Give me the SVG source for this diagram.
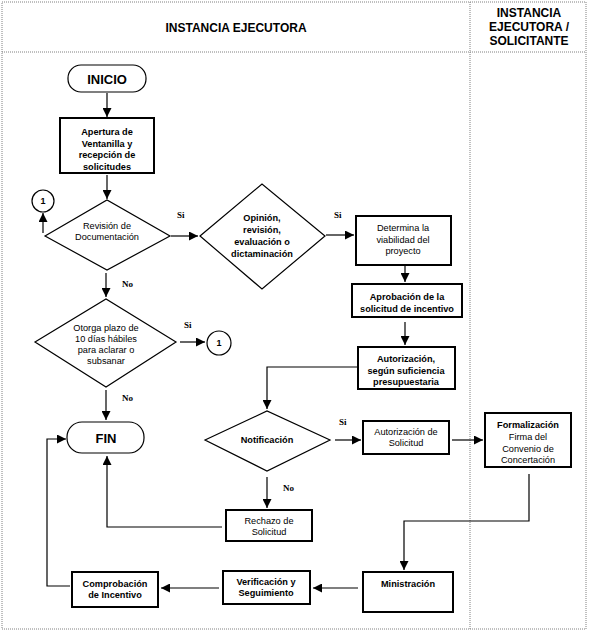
<svg xmlns="http://www.w3.org/2000/svg" width="589" height="633" viewBox="0 0 589 633">
<defs>
<marker id="ah" markerUnits="userSpaceOnUse" markerWidth="9" markerHeight="9" refX="9" refY="4.5" orient="auto"><path d="M0,0 L9,4.5 L0,9 z" fill="#000"/></marker>
<style>
.frame{fill:none;stroke:#808080;stroke-width:1;stroke-dasharray:1 1}
.box{fill:#fff;stroke:#000;stroke-width:2}
.dia{fill:#fff;stroke:#000;stroke-width:1.2}
.term{fill:#fff;stroke:#000;stroke-width:1.2}
.c{fill:none;stroke:#000;stroke-width:1.2}
.t{font-family:"Liberation Sans",Arial,sans-serif;font-size:9.2px;text-anchor:middle;fill:#000}
.b{font-weight:bold}
.h{font-family:"Liberation Sans",Arial,sans-serif;font-size:12px;font-weight:bold;text-anchor:middle;fill:#000}
.big{font-family:"Liberation Sans",Arial,sans-serif;font-size:13px;font-weight:bold;text-anchor:middle;fill:#000}
.l{font-family:"Liberation Serif","Times New Roman",serif;font-size:9px;font-weight:bold;fill:#000}
</style>
</defs>
<rect width="589" height="633" fill="#fff"/>
<g id="frame">
<rect class="frame" x="2" y="2" width="584" height="627"/>
<line class="frame" x1="2" y1="52" x2="586" y2="52"/>
<line class="frame" x1="470" y1="2" x2="470" y2="629"/>
<text class="h" x="236" y="32">INSTANCIA EJECUTORA</text>
<text class="h" x="529" y="17">INSTANCIA</text>
<text class="h" x="529" y="31">EJECUTORA /</text>
<text class="h" x="529" y="45">SOLICITANTE</text>
</g>
<g id="connectors">
<line class="c" x1="107" y1="93" x2="107" y2="117" marker-end="url(#ah)"/>
<line class="c" x1="107" y1="175" x2="107" y2="199" marker-end="url(#ah)"/>
<line class="c" x1="43" y1="233" x2="43" y2="213" marker-end="url(#ah)"/>
<line class="c" x1="171" y1="236" x2="198" y2="236" marker-end="url(#ah)"/>
<line class="c" x1="326" y1="235" x2="354" y2="235" marker-end="url(#ah)"/>
<line class="c" x1="405" y1="266" x2="405" y2="282" marker-end="url(#ah)"/>
<line class="c" x1="405" y1="322" x2="405" y2="345" marker-end="url(#ah)"/>
<polyline class="c" points="357,367 267,367 267,409" marker-end="url(#ah)"/>
<line class="c" x1="335" y1="440" x2="361" y2="440" marker-end="url(#ah)"/>
<line class="c" x1="452" y1="440" x2="483" y2="440" marker-end="url(#ah)"/>
<polyline class="c" points="529,474 529,521 404,521 404,570" marker-end="url(#ah)"/>
<line class="c" x1="358" y1="588" x2="313" y2="588" marker-end="url(#ah)"/>
<line class="c" x1="219" y1="588" x2="161" y2="588" marker-end="url(#ah)"/>
<polyline class="c" points="70,586 47,586 47,439 66,439" marker-end="url(#ah)"/>
<line class="c" x1="106" y1="273" x2="106" y2="297" marker-end="url(#ah)"/>
<line class="c" x1="180" y1="342" x2="205" y2="342" marker-end="url(#ah)"/>
<line class="c" x1="106" y1="390" x2="106" y2="420" marker-end="url(#ah)"/>
<line class="c" x1="267" y1="477" x2="267" y2="508" marker-end="url(#ah)"/>
<polyline class="c" points="222,527 107,527 107,456" marker-end="url(#ah)"/>
<text class="l" x="177" y="218">Si</text>
<text class="l" x="334" y="218">Si</text>
<text class="l" x="122" y="287">No</text>
<text class="l" x="184" y="328">Si</text>
<text class="l" x="122" y="401">No</text>
<text class="l" x="339" y="425">Si</text>
<text class="l" x="283" y="491">No</text>
</g>
<g id="inicio">
<rect class="term" x="68" y="65" width="78" height="27" rx="13"/>
<text class="big" x="107" y="83.5">INICIO</text>
</g>
<g id="apertura">
<rect class="box" x="60" y="118" width="94" height="55"/>
<text class="t b" x="107" y="135">Apertura de</text>
<text class="t b" x="107" y="147">Ventanilla y</text>
<text class="t b" x="107" y="158">recepción de</text>
<text class="t b" x="107" y="170">solicitudes</text>
</g>
<g id="conector1a">
<circle class="term" cx="43" cy="201" r="11"/>
<text class="t b" x="43" y="204" style="font-size:9px">1</text>
</g>
<g id="revision">
<polygon class="dia" points="45,236 107,200 170,236 107,270"/>
<text class="t" x="107" y="229">Revisión de</text>
<text class="t" x="107" y="240">Documentación</text>
</g>
<g id="opinion">
<polygon class="dia" points="200,236 262,184 325,236 262,289"/>
<text class="t b" x="262" y="221">Opinión,</text>
<text class="t b" x="262" y="233">revisión,</text>
<text class="t b" x="262" y="245">evaluación o</text>
<text class="t b" x="262" y="257">dictaminación</text>
</g>
<g id="determina">
<rect class="box" x="356" y="216" width="95" height="49"/>
<text class="t" x="403" y="231">Determina la</text>
<text class="t" x="403" y="243">viabilidad del</text>
<text class="t" x="403" y="254">proyecto</text>
</g>
<g id="aprobacion">
<rect class="box" x="352" y="284" width="110" height="33"/>
<text class="t b" x="407" y="300">Aprobación de la</text>
<text class="t b" x="407" y="312">solicitud de incentivo</text>
</g>
<g id="autorizacion-presup">
<rect class="box" x="358" y="347" width="97" height="42"/>
<text class="t b" x="406" y="362">Autorización,</text>
<text class="t b" x="406" y="374">según suficiencia</text>
<text class="t b" x="406" y="385">presupuestaria</text>
</g>
<g id="otorga">
<polygon class="dia" points="35,342 106,299 176,342 106,387"/>
<text class="t" x="106" y="331">Otorga plazo de</text>
<text class="t" x="106" y="342">10 días hábiles</text>
<text class="t" x="106" y="353">para aclarar o</text>
<text class="t" x="106" y="364">subsanar</text>
</g>
<g id="conector1b">
<circle class="term" cx="219" cy="343" r="12"/>
<text class="t b" x="219" y="346" style="font-size:9px">1</text>
</g>
<g id="fin">
<rect class="term" x="67" y="422" width="77" height="31" rx="15"/>
<text class="big" x="106" y="442.5">FIN</text>
</g>
<g id="notificacion">
<polygon class="dia" points="205,440 267,411 330,440 267,471"/>
<text class="t b" x="267" y="443">Notificación</text>
</g>
<g id="autorizacion-solicitud">
<rect class="box" x="363" y="421" width="86" height="33"/>
<text class="t" x="406" y="435">Autorización de</text>
<text class="t" x="406" y="446">Solicitud</text>
</g>
<g id="formalizacion">
<rect class="box" x="485" y="413" width="86" height="54"/>
<text class="t b" x="528" y="428">Formalización</text>
<text class="t" x="528" y="440">Firma del</text>
<text class="t" x="528" y="452">Convenio de</text>
<text class="t" x="528" y="463">Concertación</text>
</g>
<g id="rechazo">
<rect class="box" x="226" y="510" width="86" height="31"/>
<text class="t" x="269" y="524">Rechazo de</text>
<text class="t" x="269" y="535">Solicitud</text>
</g>
<g id="ministracion">
<rect class="box" x="363" y="572" width="90" height="40"/>
<text class="t b" x="408" y="587">Ministración</text>
</g>
<g id="verificacion">
<rect class="box" x="223" y="571" width="87" height="33"/>
<text class="t b" x="266" y="585">Verificación y</text>
<text class="t b" x="266" y="596">Seguimiento</text>
</g>
<g id="comprobacion">
<rect class="box" x="72" y="572" width="86" height="35"/>
<text class="t b" x="115" y="587">Comprobación</text>
<text class="t b" x="115" y="598">de Incentivo</text>
</g>
</svg>
